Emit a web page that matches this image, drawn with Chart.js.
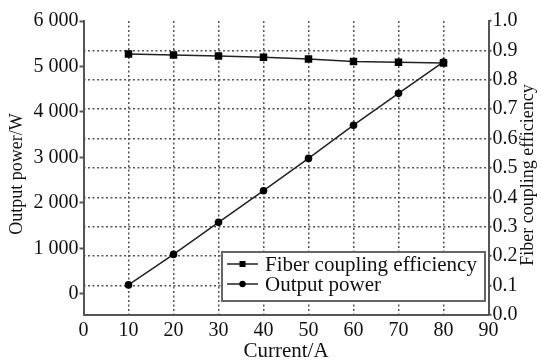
<!DOCTYPE html>
<html>
<head>
<meta charset="utf-8">
<script src="https://cdn.jsdelivr.net/npm/chart.js@4/dist/chart.umd.min.js"></script>
<style>
  html, body { margin: 0; padding: 0; background: #fff; }
  #wrap { width: 541px; height: 360px; position: relative; }
</style>
</head>
<body>
<div id="wrap"><canvas id="c" width="541" height="360"></canvas></div>
<script>
// ---- data ----
const currents = [10, 20, 30, 40, 50, 60, 70, 80];
const couplingEfficiency = [0.888, 0.884, 0.881, 0.877, 0.871, 0.862, 0.860, 0.857];
const outputPower = [200, 870, 1575, 2270, 2980, 3710, 4410, 5100];
const powerTicks = [0, 1000, 2000, 3000, 4000, 5000, 6000];
const seriesNames = ['Fiber coupling efficiency', 'Output power'];
const xTitle = 'Current/A';
const yLeftTitle = 'Output power/W';
const yRightTitle = 'Fiber coupling efficiency';

const FONT = '"Liberation Serif", "Times New Roman", serif';
const AX = '#555';
const GRID = '#555';

function fmtThousands(v) {
  const s = String(Math.round(v));
  return s.replace(/\B(?=(\d{3})+(?!\d))/g, ' ');
}

// axis titles: both vertical titles read bottom-to-top, as in the reference
const titlesPlugin = {
  id: 'axisTitles',
  afterDraw(chart) {
    const ctx = chart.ctx;
    const a = chart.chartArea;
    ctx.save();
    ctx.fillStyle = '#111';
    ctx.textAlign = 'center';
    ctx.textBaseline = 'middle';
    ctx.font = '21px ' + FONT;
    ctx.fillText(xTitle, (a.left + a.right) / 2, 351);
    ctx.font = '18px ' + FONT;
    ctx.save();
    ctx.translate(17, 174);
    ctx.rotate(-Math.PI / 2);
    ctx.fillText(yLeftTitle, 0, 0);
    ctx.restore();
    ctx.save();
    ctx.translate(528.5, 175);
    ctx.rotate(-Math.PI / 2);
    ctx.fillText(yRightTitle, 0, 0);
    ctx.restore();
    ctx.restore();
  }
};

const legendPlugin = {
  id: 'boxLegend',
  afterDraw(chart) {
    const ctx = chart.ctx;
    const x0 = 222, y0 = 252, w = 263, h = 49;
    ctx.save();
    ctx.fillStyle = '#fff';
    ctx.fillRect(x0, y0, w, h);
    ctx.strokeStyle = '#666';
    ctx.lineWidth = 2;
    ctx.strokeRect(x0, y0, w, h);
    const rows = [y0 + 12, y0 + 32];
    chart.data.datasets.forEach((ds, i) => {
      const y = rows[i];
      ctx.strokeStyle = '#222';
      ctx.lineWidth = 1.5;
      ctx.beginPath();
      ctx.moveTo(x0 + 5, y);
      ctx.lineTo(x0 + 36, y);
      ctx.stroke();
      ctx.fillStyle = '#000';
      if (ds.pointStyle === 'rect') {
        ctx.fillRect(x0 + 20.5 - 3, y - 3, 6, 6);
      } else {
        ctx.beginPath();
        ctx.arc(x0 + 20.5, y, 3.2, 0, Math.PI * 2);
        ctx.fill();
      }
      ctx.fillStyle = '#111';
      ctx.font = '21px ' + FONT;
      ctx.textBaseline = 'middle';
      ctx.textAlign = 'left';
      ctx.fillText(ds.label, x0 + 43, y + 1);
    });
    ctx.restore();
  }
};

const chart = new Chart(document.getElementById('c'), {
  type: 'line',
  data: {
    labels: currents,
    datasets: [
      {
        label: seriesNames[0],
        data: currents.map((x, i) => ({ x: x, y: couplingEfficiency[i] })),
        yAxisID: 'yR',
        borderColor: '#222',
        borderWidth: 1.5,
        pointStyle: 'rect',
        pointRadius: 5.3,
        pointBackgroundColor: '#000',
        pointBorderColor: '#000',
        pointBorderWidth: 0,
        tension: 0
      },
      {
        label: seriesNames[1],
        data: currents.map((x, i) => ({ x: x, y: outputPower[i] })),
        yAxisID: 'yL',
        borderColor: '#222',
        borderWidth: 1.5,
        pointStyle: 'circle',
        pointRadius: 3.8,
        pointBackgroundColor: '#000',
        pointBorderColor: '#000',
        pointBorderWidth: 0,
        tension: 0
      }
    ]
  },
  options: {
    responsive: false,
    animation: false,
    devicePixelRatio: 1,
    layout: { padding: { top: 21, left: 0, right: 0, bottom: 0 } },
    plugins: { legend: { display: false }, tooltip: { enabled: false } },
    scales: {
      x: {
        type: 'linear',
        min: 0, max: 90,
        afterFit(s) { s.height = 45; },
        ticks: { stepSize: 10, color: '#111', font: { family: FONT, size: 20 }, padding: 4, maxRotation: 0 },
        grid: {
          drawTicks: false,
          lineWidth: 1.5,
          color: (c) => (c.tick && (c.tick.value === 0 || c.tick.value === 90)) ? 'rgba(0,0,0,0)' : GRID
        },
        border: { color: AX, width: 2, dash: [2, 2.5] },
        title: { display: false, text: xTitle }
      },
      yL: {
        type: 'linear',
        position: 'left',
        min: -462, max: 6000,
        afterFit(s) { s.width = 83.5; },
        afterBuildTicks(s) { s.ticks = powerTicks.map(v => ({ value: v })); },
        ticks: { color: '#111', font: { family: FONT, size: 20 }, padding: 1, callback: (v) => fmtThousands(v) },
        grid: { drawOnChartArea: false, tickLength: 4, tickColor: AX, tickWidth: 2, tickBorderDash: [] },
        border: { color: AX, width: 2 },
        title: { display: false, text: yLeftTitle }
      },
      yR: {
        type: 'linear',
        position: 'right',
        min: 0, max: 1,
        afterFit(s) { s.width = 52.5; },
        ticks: { stepSize: 0.1, color: '#111', font: { family: FONT, size: 20 }, padding: 1, callback: (v) => Number(v).toFixed(1) },
        grid: {
          drawOnChartArea: true,
          lineWidth: 1.5,
          tickLength: 3,
          tickColor: AX,
          tickWidth: 2,
          tickBorderDash: [],
          color: (c) => (c.tick && (Math.abs(c.tick.value) < 1e-6 || Math.abs(c.tick.value - 1) < 1e-6)) ? 'rgba(0,0,0,0)' : GRID
        },
        border: { color: AX, width: 2, dash: [2, 2.5] },
        title: { display: false, text: yRightTitle }
      }
    }
  },
  plugins: [legendPlugin, titlesPlugin]
});
</script>
</body>
</html>
